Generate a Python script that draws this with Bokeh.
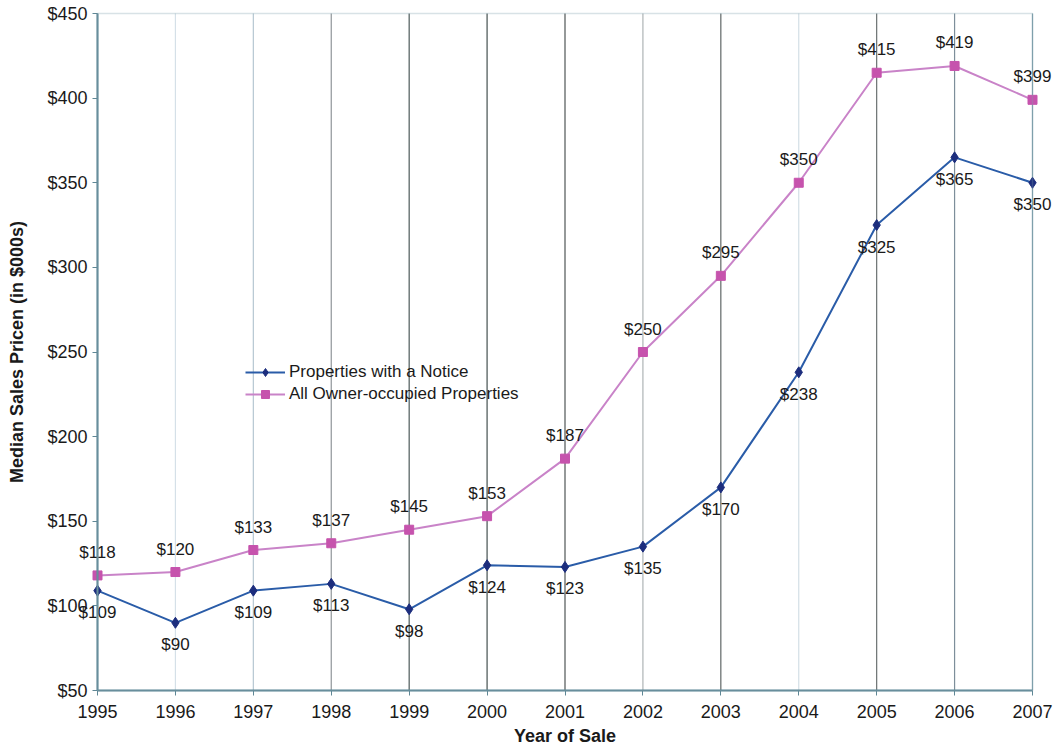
from bokeh.plotting import figure
from bokeh.models import (Range1d, FixedTicker, PrintfTickFormatter, Legend, LegendItem,
                          ColumnDataSource, LinearAxis, BoxAnnotation)
from bokeh.core.properties import value
from bokeh.embed import file_html
from bokeh.resources import INLINE

years = [1995, 1996, 1997, 1998, 1999, 2000, 2001, 2002, 2003, 2004, 2005, 2006, 2007]
notice = [109, 90, 109, 113, 98, 124, 123, 135, 170, 238, 325, 365, 350]
all_owner = [118, 120, 133, 137, 145, 153, 187, 250, 295, 350, 415, 419, 399]
y_ticks = [50, 100, 150, 200, 250, 300, 350, 400, 450]

# style only: tint of each vertical grid line, as in the scanned original
grid_colors = ["#7f9fab", "#d5e0e8", "#b5c6d1", "#8f9599", "#4d5a5a", "#44504f", "#4f5555",
               "#aeb3b5", "#5f6666", "#d3dee6", "#6a7070", "#7d8e9a", "#7f9fab"]

FONT = "Liberation Sans"
W, H = 1053, 746
# plot box in pixels (left, right, top, bottom)
PL, PR, PT, PB = 97, 1032, 13, 690

xmin, xmax = years[0], years[-1]
ymin, ymax = y_ticks[0], y_ticks[-1]
sx = (PR - PL) / (xmax - xmin)
sy = (PB - PT) / (ymax - ymin)
x_range = Range1d(xmin - PL / sx, xmin + (W - PL) / sx)
y_range = Range1d(ymax - (H - PT) / sy, ymax + PT / sy)

p = figure(width=W, height=H, output_backend="svg", toolbar_location=None,
           x_range=x_range, y_range=y_range, x_axis_location=None, y_axis_location=None,
           min_border=0)
p.background_fill_color = "white"
p.border_fill_color = "white"
p.outline_line_color = None
p.grid.grid_line_color = None

src = ColumnDataSource(dict(x=years, notice=notice, all_owner=all_owner,
                            nlab=["$%d" % v for v in notice],
                            alab=["$%d" % v for v in all_owner]))

# vertical grid lines
p.segment(x0=years, y0=[ymin] * len(years), x1=years, y1=[ymax] * len(years),
          line_color=grid_colors, line_width=1.2)

# frame border
p.add_layout(BoxAnnotation(left=xmin, right=xmax, bottom=ymin, top=ymax,
                           fill_alpha=0, line_color="#7f9fab", line_width=1.5))

xaxis = LinearAxis(fixed_location=ymin, bounds=(xmin, xmax), ticker=FixedTicker(ticks=years),
                   axis_label="Year of Sale")
yaxis = LinearAxis(fixed_location=xmin, bounds=(ymin, ymax), ticker=FixedTicker(ticks=y_ticks),
                   formatter=PrintfTickFormatter(format="$%d"),
                   axis_label="Median Sales Pricen (in $000s)")
for ax in (xaxis, yaxis):
    ax.axis_line_color = "#5f8795"
    ax.axis_line_width = 2
    ax.major_tick_line_color = "#5f8795"
    ax.major_tick_out = 5
    ax.major_tick_in = 0
    ax.minor_tick_line_color = None
    ax.major_label_text_font = FONT
    ax.major_label_text_font_size = "18px"
    ax.major_label_text_color = "#1a1a1a"
    ax.axis_label_text_font = FONT
    ax.axis_label_text_font_size = "18px"
    ax.axis_label_text_font_style = "bold"
    ax.axis_label_text_color = "#1a1a1a"
xaxis.major_label_standoff = 9
xaxis.axis_label_standoff = 5
yaxis.major_label_standoff = 5
yaxis.axis_label_standoff = 17
p.add_layout(xaxis, "below")
p.add_layout(yaxis, "left")

blue_line = p.line("x", "notice", source=src, line_color="#2a5ca8", line_width=2)
blue_pts = p.scatter("x", "notice", source=src, marker="diamond", size=11,
                     fill_color="#1c2d7d", line_color="#1c2d7d")
pink_line = p.line("x", "all_owner", source=src, line_color="#c983c8", line_width=2)
pink_pts = p.scatter("x", "all_owner", source=src, marker="square", size=9,
                     fill_color="#c653ad", line_color="#c653ad")

p.text("x", "notice", text="nlab", source=src, text_align="center", text_baseline="middle",
       y_offset=22, text_font=value(FONT), text_font_size="17px", text_color="#1a1a1a")
p.text("x", "all_owner", text="alab", source=src, text_align="center", text_baseline="middle",
       y_offset=-23, text_font=value(FONT), text_font_size="17px", text_color="#1a1a1a")

legend = Legend(items=[
    LegendItem(label="Properties with a Notice", renderers=[blue_line, blue_pts]),
    LegendItem(label="All Owner-occupied Properties", renderers=[pink_line, pink_pts]),
], location=(245, 342))
legend.background_fill_alpha = 0
legend.border_line_color = None
legend.label_text_font = FONT
legend.label_text_font_size = "17px"
legend.label_text_color = "#1a1a1a"
legend.glyph_width = 40
legend.glyph_height = 20
legend.label_height = 20
legend.spacing = 2
legend.padding = 2
legend.margin = 0
legend.label_standoff = 4
p.add_layout(legend, "center")

open("out.html", "w").write(file_html(p, INLINE))
